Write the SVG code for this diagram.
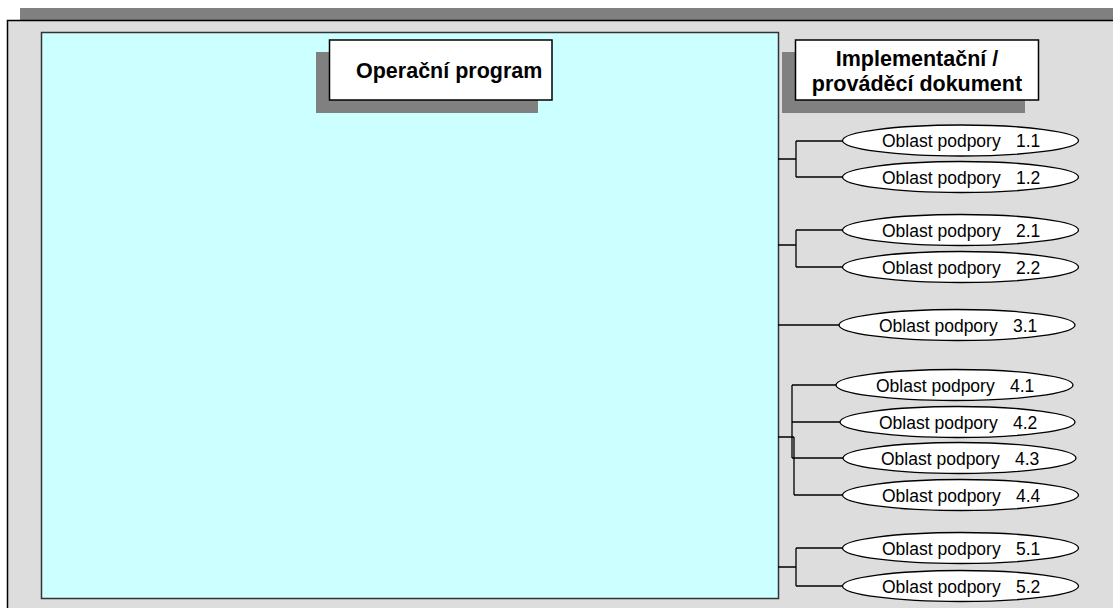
<svg xmlns="http://www.w3.org/2000/svg" width="1113" height="608" viewBox="0 0 1113 608">
<style>
.shadow{fill:#808080}
.box{fill:#fff;stroke:#000;stroke-width:1.5}
.ell{fill:#fff;stroke:#000;stroke-width:1.3}
.title{font-family:"Liberation Sans",Arial,sans-serif;font-weight:bold;font-size:21.5px;fill:#000}
.lbl{font-family:"Liberation Sans",Arial,sans-serif;font-size:17.5px;fill:#000}
.con{fill:none;stroke:#000;stroke-width:1.3}
</style>
<rect width="1113" height="608" fill="#fff"/>
<g id="frame">
<rect class="shadow" x="20" y="8" width="1100" height="14"/>
<rect x="7.5" y="20.5" width="1120" height="600" fill="#dddddd" stroke="#000" stroke-width="1.5"/>
</g>
<g id="operacni-program">
<rect x="41.5" y="32.5" width="737" height="566" fill="#ccffff" stroke="#333" stroke-width="1.5"/>
<rect class="shadow" x="316" y="52" width="222" height="61"/>
<rect class="box" x="329.5" y="40" width="222.5" height="60"/>
<text class="title" x="356" y="77.5">Operační program</text>
</g>
<g id="implementacni-dokument">
<rect class="shadow" x="782" y="52" width="243" height="61"/>
<rect class="box" x="795.5" y="40" width="243" height="60"/>
<text class="title" x="917" y="65.5" text-anchor="middle">Implementační /</text>
<text class="title" x="917" y="91" text-anchor="middle">prováděcí dokument</text>
</g>
<g id="connectors">
<path class="con" d="M778 159 H796 M796 141 V177 M796 141 H843 M796 177 H843"/>
<path class="con" d="M778 245 H796 M796 230 V267 M796 230 H843 M796 267 H843"/>
<path class="con" d="M778 325 H839"/>
<path class="con" d="M778 437 H794 M792 385 V458 M794 437 V495 M792 385 H836 M792 422 H840 M792 458 H843 M794 495 H843"/>
<path class="con" d="M778 567 H796 M796 548 V586 M796 548 H843 M796 586 H843"/>
</g>
<g id="oblast-1-1"><ellipse class="ell" cx="960.5" cy="140.5" rx="118" ry="15.5"/><text class="lbl" y="147"><tspan x="882">Oblast podpory</tspan><tspan x="1016">1.1</tspan></text></g>
<g id="oblast-1-2"><ellipse class="ell" cx="960.5" cy="177" rx="118" ry="15.5"/><text class="lbl" y="183.5"><tspan x="882">Oblast podpory</tspan><tspan x="1016">1.2</tspan></text></g>
<g id="oblast-2-1"><ellipse class="ell" cx="960.5" cy="230" rx="118" ry="15.5"/><text class="lbl" y="236.5"><tspan x="882">Oblast podpory</tspan><tspan x="1016">2.1</tspan></text></g>
<g id="oblast-2-2"><ellipse class="ell" cx="960.5" cy="267" rx="118" ry="15.5"/><text class="lbl" y="273.5"><tspan x="882">Oblast podpory</tspan><tspan x="1016">2.2</tspan></text></g>
<g id="oblast-3-1"><ellipse class="ell" cx="957" cy="325" rx="118" ry="15.5"/><text class="lbl" y="331.5"><tspan x="879">Oblast podpory</tspan><tspan x="1013">3.1</tspan></text></g>
<g id="oblast-4-1"><ellipse class="ell" cx="954.5" cy="385" rx="118.5" ry="15.5"/><text class="lbl" y="391.5"><tspan x="876">Oblast podpory</tspan><tspan x="1010">4.1</tspan></text></g>
<g id="oblast-4-2"><ellipse class="ell" cx="957.5" cy="422" rx="117.5" ry="15.5"/><text class="lbl" y="428.5"><tspan x="879">Oblast podpory</tspan><tspan x="1013">4.2</tspan></text></g>
<g id="oblast-4-3"><ellipse class="ell" cx="959.5" cy="458" rx="116.5" ry="15.5"/><text class="lbl" y="464.5"><tspan x="881">Oblast podpory</tspan><tspan x="1015">4.3</tspan></text></g>
<g id="oblast-4-4"><ellipse class="ell" cx="960.5" cy="495" rx="118" ry="15.5"/><text class="lbl" y="501.5"><tspan x="882">Oblast podpory</tspan><tspan x="1016">4.4</tspan></text></g>
<g id="oblast-5-1"><ellipse class="ell" cx="960.5" cy="548" rx="118" ry="15.5"/><text class="lbl" y="554.5"><tspan x="882">Oblast podpory</tspan><tspan x="1016">5.1</tspan></text></g>
<g id="oblast-5-2"><ellipse class="ell" cx="960.5" cy="586" rx="118" ry="15.5"/><text class="lbl" y="592.5"><tspan x="882">Oblast podpory</tspan><tspan x="1016">5.2</tspan></text></g>
</svg>
